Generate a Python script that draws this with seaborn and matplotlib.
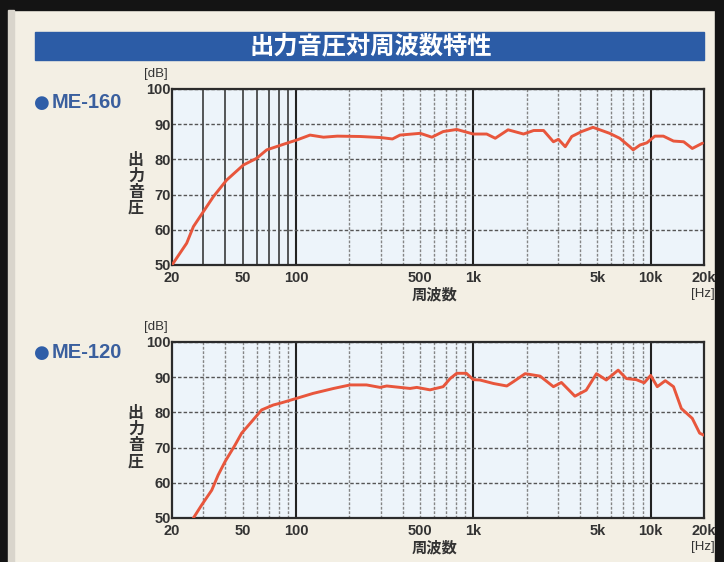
import matplotlib
matplotlib.use("Agg")
import matplotlib.pyplot as plt
import matplotlib.patches as mpatches
import seaborn as sns
import pandas as pd

# ME-160 response (Hz, dB)
freq_160 = [20, 22.2, 24.2, 26.4, 30, 34.2, 40.6, 50.5, 60, 68.4, 88.8, 101, 120, 143, 171, 230,
            300, 350, 386, 502, 584, 676, 806, 1000, 1190, 1330, 1570, 1920, 2190, 2490, 2830,
            3020, 3300, 3590, 4080, 4730, 5170, 5870, 6690, 7630, 7970, 8720, 9520, 10560,
            11800, 13460, 15360, 17170, 19600]
spl_160 = [50, 53.4, 56.2, 60.9, 65.1, 69.4, 74.1, 78.4, 80.3, 82.7, 84.6, 85.5, 86.9, 86.3, 86.6, 86.5,
           86.2, 85.8, 86.9, 87.4, 86.3, 87.9, 88.5, 87.2, 87.2, 86.0, 88.4, 87.2, 88.2, 88.2, 85.0,
           85.7, 83.6, 86.5, 87.9, 89.1, 88.4, 87.4, 86.0, 83.6, 82.7, 84.1, 84.7, 86.6,
           86.6, 85.2, 85.0, 83.1, 84.6]

# ME-120 response
freq_120 = [26.4, 29.4, 33.5, 36.4, 39.8, 45.3, 49.4, 56.3, 64, 74.5, 81.4, 101, 125, 163, 202, 250,
            298, 325, 386, 440, 480, 570, 676, 740, 806, 914, 1000, 1090, 1300, 1545, 1680, 1960,
            2380, 2830, 3140, 3740, 4330, 4950, 5620, 6560, 7300, 8300, 9200, 10000, 10900,
            12100, 13460, 14900, 17170, 18900, 20000]
spl_120 = [50, 53.7, 57.9, 62.2, 66.0, 70.7, 74.1, 77.4, 80.7, 82.1, 82.6, 84.0, 85.4, 86.8, 87.8, 87.8,
           87.1, 87.5, 87.1, 86.8, 87.1, 86.4, 87.3, 89.6, 91.1, 91.1, 89.3, 89.2, 88.2, 87.5, 88.7, 91.0,
           90.3, 87.3, 88.5, 84.6, 86.3, 91.0, 89.2, 92.0, 89.6, 89.3, 88.4, 90.5, 87.3,
           89.0, 87.3, 81.1, 78.3, 74.1, 73.5]

x_ticks = [20, 50, 100, 500, 1000, 5000, 10000, 20000]
x_ticklabels = ["20", "50", "100", "500", "1k", "5k", "10k", "20k"]
y_ticks = [50, 60, 70, 80, 90, 100]
grid_freqs = [30, 40, 50, 60, 70, 80, 90, 100, 200, 300, 400, 500, 600, 700, 800, 900,
              1000, 2000, 3000, 4000, 5000, 6000, 7000, 8000, 9000, 10000]

title = "出力音圧対周波数特性"
models = ["ME-160", "ME-120"]

sns.set_theme(style="ticks")
plt.rcParams["font.family"] = ["Liberation Sans", "DejaVu Sans", "Noto Sans CJK JP"]

bg = "#f3efe4"
fig = plt.figure(figsize=(7.24, 5.62), dpi=100, facecolor=bg)

# scanned page frame
for (x0, y0, w, h) in [(0, 0.982, 1, 0.018), (0, 0, 0.011, 1), (0.988, 0, 0.012, 1)]:
    fig.patches.append(mpatches.Rectangle((x0, y0), w, h, transform=fig.transFigure,
                                          color="#141414", zorder=0))
fig.patches.append(mpatches.Rectangle((0.011, 0), 0.009, 0.982, transform=fig.transFigure,
                                      color="#d9d5cc", zorder=0))

# title bar
fig.patches.append(mpatches.Rectangle((0.0483, 0.8932), 0.924, 0.0498, transform=fig.transFigure,
                                      color="#2c5ca6", zorder=1))
fig.text(0.5117, 0.918, title, color="white", fontsize=17.5, fontweight="bold",
         ha="center", va="center", family=["Noto Sans CJK JP"])

line_color = "#e8563c"
dark = "#2b2b2b"
data = [(freq_160, spl_160), (freq_120, spl_120)]
bottoms = [0.5285, 0.0783]
model_y = [0.817, 0.372]

for i, ((fr, db), b) in enumerate(zip(data, bottoms)):
    ax = fig.add_axes([0.2376, b, 0.7348, 0.3132])
    ax.set_facecolor("#edf4fa")
    df = pd.DataFrame({"freq": fr, "spl": db})
    sns.lineplot(data=df, x="freq", y="spl", ax=ax, color=line_color, lw=2.1, zorder=5)
    ax.set_xscale("log")
    ax.set_xlim(20, 20000)
    ax.set_ylim(50, 100)
    ax.set_xticks(x_ticks)
    ax.set_xticklabels(x_ticklabels)
    ax.set_xticks(grid_freqs, minor=True)
    ax.xaxis.remove_overlapping_locs = False
    ax.set_yticks(y_ticks)
    ax.tick_params(length=0, labelsize=10.5, labelcolor="#333333", pad=4.5)
    ax.tick_params(axis="y", pad=1)
    ax.tick_params(which="minor", length=0, labelbottom=False)
    for lab in ax.get_xticklabels() + ax.get_yticklabels():
        lab.set_fontweight("bold")

    # horizontal grid
    ax.grid(axis="y", which="major", color="#555555", lw=1.0, ls=(0, (2.5, 1.5)))
    ax.grid(axis="x", which="major", visible=False)
    ax.grid(axis="x", which="minor", visible=True)
    for t in ax.xaxis.get_minor_ticks():
        f = t.get_loc()
        gl = t.gridline
        gl.set_zorder(1)
        if f in (100, 1000, 10000):
            gl.set(color="#222222", lw=1.5, ls="-")
        elif i == 0 and f < 100:
            gl.set(color="#3a3a3a", lw=1.2, ls="-")
        else:
            gl.set(color="#858585", lw=1.0, ls=(0, (2, 1.2)))

    for s in ax.spines.values():
        s.set_color(dark)
        s.set_linewidth(1.6)

    ax.set_xlabel("周波数", fontsize=11, fontweight="bold", color="#333333",
                  family=["Noto Sans CJK JP"])
    ax.xaxis.set_label_coords(0.493, -0.12)
    ax.set_ylabel("")
    ax.text(-0.068, 0.46, "\n".join("出力音圧"), transform=ax.transAxes, ha="center", va="center",
            fontsize=11.5, fontweight="bold", color="#333333", linespacing=1.0,
            family=["Noto Sans CJK JP"])
    ax.text(-0.03, 1.085, "[dB]", transform=ax.transAxes, ha="center", va="center",
            fontsize=9.5, color="#333333")
    ax.text(0.998, -0.165, "[Hz]", transform=ax.transAxes, ha="center", va="center",
            fontsize=9.5, color="#333333")

    fig.text(0.047, model_y[i], "●", color="#2f5ea8", fontsize=13,
             ha="left", va="center", family=["DejaVu Sans"])
    fig.text(0.071, model_y[i], models[i], color="#3a5f9e", fontsize=14.5, fontweight="bold",
             ha="left", va="center")

fig.savefig("out.png", dpi=100, facecolor=bg)
